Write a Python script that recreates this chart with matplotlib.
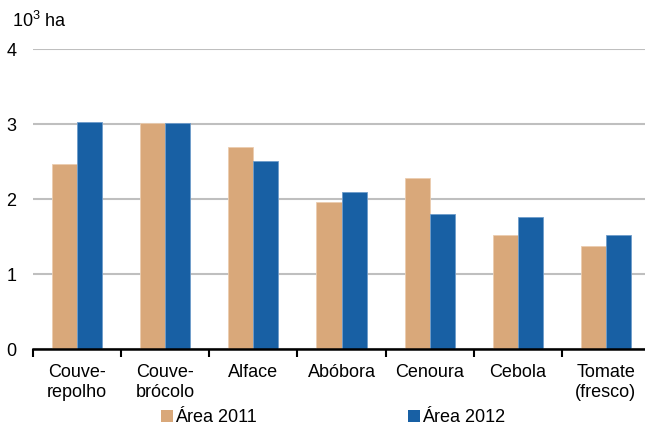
import matplotlib
matplotlib.use("Agg")
import matplotlib.pyplot as plt
import numpy as np
from matplotlib.patches import Patch

categories = ["Couve-\nrepolho", "Couve-\nbrócolo", "Alface", "Abóbora", "Cenoura", "Cebola", "Tomate\n(fresco)"]
area_2011 = [2.47, 3.02, 2.70, 1.97, 2.29, 1.52, 1.38]
area_2012 = [3.03, 3.02, 2.51, 2.10, 1.80, 1.77, 1.52]
series_labels = ["Área 2011", "Área 2012"]
y_ticks = [0, 1, 2, 3, 4]

c11 = "#D9A87A"
c12 = "#1860A4"

plt.rcParams['font.family'] = ['Liberation Sans', 'DejaVu Sans']
plt.rcParams['mathtext.fontset'] = 'custom'
plt.rcParams['mathtext.rm'] = 'Liberation Sans'
plt.rcParams['mathtext.it'] = 'Liberation Sans'

fs = 13
fig = plt.figure(figsize=(6.45, 4.25), dpi=100)
ax = fig.add_axes([33/645, (425-349.3)/425, 617/645, 300/425])

x = np.arange(len(categories))
w = 0.284
ax.bar(x - w/2, area_2011, width=w, color=c11, edgecolor="#EBCDB0", linewidth=0.6, zorder=3)
ax.bar(x + w/2, area_2012, width=w, color=c12, edgecolor="#6E9CCB", linewidth=0.6, zorder=3)

ax.set_xlim(-0.5, len(categories) - 0.5)
ax.set_ylim(0, 4)
ax.set_yticks(y_ticks)
ax.yaxis.grid(True, color="#BFBFBF", linewidth=1.5, zorder=0)
ax.tick_params(axis='y', length=0, pad=12, labelsize=fs)

ax.set_xticks(np.arange(-0.5, len(categories)), minor=False)
ax.set_xticklabels([])
ax.set_xticks(x, minor=True)
ax.set_xticklabels(categories, minor=True, fontsize=fs, linespacing=1.22)
ax.tick_params(axis='x', which='major', length=6, width=1.5, color='black', direction='out')
ax.tick_params(axis='x', which='minor', length=0, pad=10.5)

for s in ['top', 'right', 'left']:
    ax.spines[s].set_visible(False)
ax.spines['bottom'].set_linewidth(1.8)
ax.spines['bottom'].set_color('black')
ax.spines['bottom'].set_zorder(4)

fig.text(12/645, 1 - 21/425, r'10$^3$ ha', fontsize=fs, ha='left', va='center')

handles = [Patch(facecolor=c11, edgecolor='none'), Patch(facecolor=c12, edgecolor='none')]
fig.legend(handles, series_labels, loc='center', bbox_to_anchor=(333/645, 7.5/425), ncol=2,
           frameon=False, fontsize=fs, handlelength=0.66, handleheight=0.66,
           handletextpad=0.1, columnspacing=8.4, borderpad=0, borderaxespad=0)

fig.savefig("out.png", dpi=100)
